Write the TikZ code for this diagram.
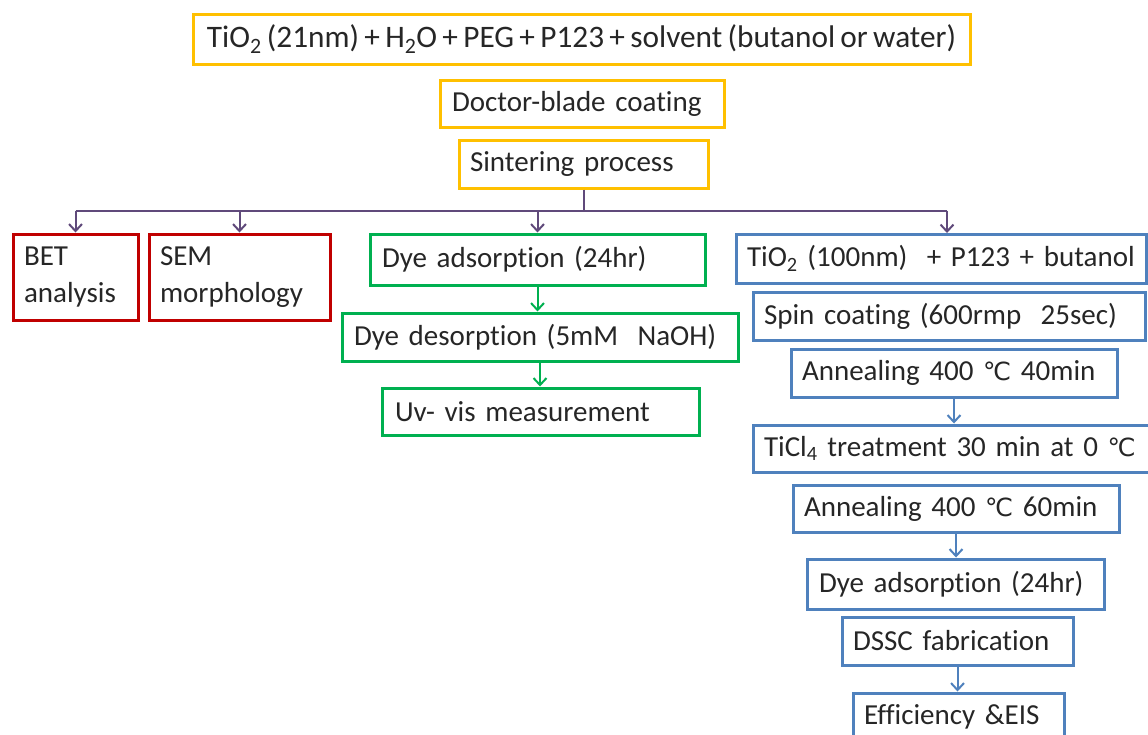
\documentclass[tikz,border=0pt]{standalone}
\usepackage{fontspec}
\setmainfont{Carlito}[RawFeature=-liga, WordSpace=0.75]
\newfontfamily\symfont{DejaVu Sans}
\usetikzlibrary{arrows.meta}
\definecolor{cyel}{HTML}{FFC000}
\definecolor{cred}{HTML}{C00000}
\definecolor{cgrn}{HTML}{00B050}
\definecolor{cblu}{HTML}{4F81BD}
\definecolor{cpur}{HTML}{604A7B}
\newcommand{\degC}{{\symfont\fontsize{25}{28}\selectfont ℃}}
\tikzset{
  boxbase/.style={draw, line width=3pt, inner ysep=0pt, align=left,
    font=\fontsize{29}{37}\selectfont, text=black!85},
  ybox/.style={boxbase, draw=cyel},
  rbox/.style={boxbase, draw=cred},
  gbox/.style={boxbase, draw=cgrn},
  bbox/.style={boxbase, draw=cblu},
  arr/.style={line width=2pt, -{Straight Barb[length=7pt,width=13pt]}},
  plain/.style={line width=2pt}
}
\begin{document}
\begin{tikzpicture}[x=1pt,y=-1pt]
\useasboundingbox (0,0) rectangle (1148,734);
\clip (0,0) rectangle (1148,734);
\node[ybox, minimum width=777pt, minimum height=50pt, inner xsep=0pt, align=center, font=\fontsize{31.3}{37}\selectfont] (top) at (581.5,39) {TiO\textsubscript{2} (21nm) + H\textsubscript{2}O + PEG + P123 + solvent (butanol or water)};
\node[ybox, minimum height=47pt, inner xsep=12pt, text width=260pt] (doc) at (582,103.5) {Doctor-blade coating};
\node[ybox, minimum height=48pt, inner xsep=11pt, text width=227pt] (sint) at (583.5,164) {Sintering process};

\node[rbox, minimum height=86pt, inner xsep=11pt, text width=103pt] (bet) at (75.5,277) {BET\\analysis};
\node[rbox, minimum height=86pt, inner xsep=11pt, text width=159pt] (sem) at (239.5,277) {SEM\\morphology};

\node[gbox, minimum height=51pt, inner xsep=12pt, text width=311pt] (dye1) at (537.5,259.5) {Dye adsorption (24hr)};
\node[gbox, minimum height=48pt, inner xsep=12pt, text width=372pt] (des) at (540,337) {Dye desorption (5mM\ \ NaOH)};
\node[gbox, minimum height=47pt, inner xsep=13pt, text width=291pt] (uv) at (540.5,411.5) {Uv- vis measurement};

\node[bbox, minimum height=49pt, inner xsep=11pt, text width=388pt] (b1) at (941,258.5) {TiO\textsubscript{2} (100nm)\ \ + P123 + butanol};
\node[bbox, minimum height=48pt, inner xsep=11pt, text width=370pt] (b2) at (949,316) {Spin coating (600rmp\ \ 25sec)};
\node[bbox, minimum height=48pt, inner xsep=11pt, text width=304pt] (b3) at (954,373) {Annealing 400 \degC\ 40min};
\node[bbox, minimum height=47pt, inner xsep=11pt, text width=374pt] (b4) at (951,448.5) {TiCl\textsubscript{4} treatment 30 min at 0 \degC};
\node[bbox, minimum height=47pt, inner xsep=11pt, text width=304pt] (b5) at (956,508.5) {Annealing 400 \degC\ 60min};
\node[bbox, minimum height=50pt, inner xsep=12pt, text width=273pt] (b6) at (955.5,584) {Dye adsorption (24hr)};
\node[bbox, minimum height=48pt, inner xsep=11pt, text width=209pt] (b7) at (957.5,641) {DSSC fabrication};
\node[bbox, minimum height=48pt, inner xsep=11pt, text width=189pt] (b8) at (958.5,717) {Efficiency \&EIS};

% purple distribution
\coordinate (hub) at (583.5,210.5);
\coordinate (bt) at (947,233);
\draw[plain, cpur] (sint.south) -- (hub);
\draw[plain, cpur] (bet.north |- hub) -- (bt |- hub);
\draw[arr, cpur] (bet.north |- hub) -- (bet.north);
\draw[arr, cpur] (sem.north |- hub) -- (sem.north);
\draw[arr, cpur] (dye1.north |- hub) -- (dye1.north);
\draw[arr, cpur] (bt |- hub) -- (bt);

% green arrows
\draw[arr, cgrn] (dye1.south) -- (dye1.south |- des.north);
\draw[arr, cgrn] (des.south) -- (des.south |- uv.north);

% blue arrows
\draw[arr, cblu] (b3.south) -- (b3.south |- b4.north);
\draw[arr, cblu] (b5.south) -- (b5.south |- b6.north);
\draw[arr, cblu] (b7.south) -- (b7.south |- b8.north);
\end{tikzpicture}
\end{document}
